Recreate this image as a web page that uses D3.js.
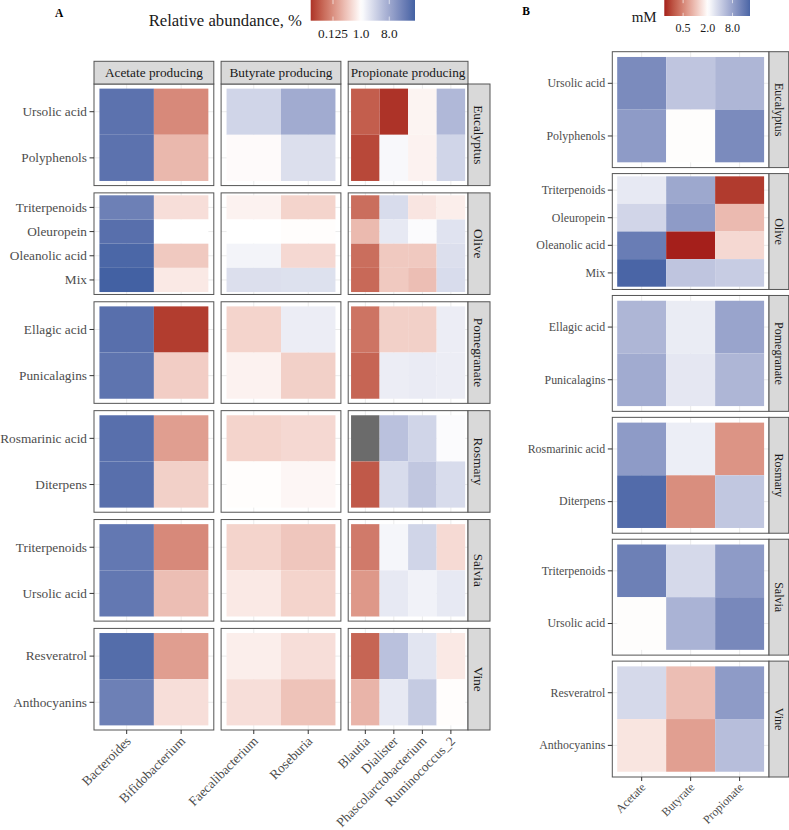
<!DOCTYPE html>
<html><head><meta charset="utf-8">
<script src="https://cdn.jsdelivr.net/npm/d3@7"></script>
<style>body{margin:0;background:#fff}svg{display:block}text{font-family:"Liberation Serif","Times New Roman",serif}</style>
</head><body>
<svg id="c" width="789" height="830"></svg>
<script>
// ---------- DATA ----------
const plants = ["Eucalyptus","Olive","Pomegranate","Rosmary","Salvia","Vine"];
const compounds = [
  ["Ursolic acid","Polyphenols"],
  ["Triterpenoids","Oleuropein","Oleanolic acid","Mix"],
  ["Ellagic acid","Punicalagins"],
  ["Rosmarinic acid","Diterpens"],
  ["Triterpenoids","Ursolic acid"],
  ["Resveratrol","Anthocyanins"]
];
const groupsA = ["Acetate producing","Butyrate producing","Propionate producing"];
const generaA = [
  ["Bacteroides","Bifidobacterium"],
  ["Faecalibacterium","Roseburia"],
  ["Blautia","Dialister","Phascolarctobacterium","Ruminococcus_2"]
];
// relative abundance ratio; columns follow generaA flattened; rows follow compounds flattened
const abundance = [
  [33.4, 0.112, 2.71, 7.6, 0.050, 0.024, 0.82, 5.5],
  [33.4, 0.268, 0.92, 2.13, 0.034, 1.17, 0.79, 2.71],
  [23.3, 0.55, 0.79, 0.45, 0.067, 2.31, 0.62, 0.73],
  [36.0, 1.00, 1.00, 0.96, 0.28, 1.67, 1.10, 1.94],
  [46.0, 0.37, 1.29, 0.49, 0.067, 0.37, 0.37, 2.13],
  [53.8, 0.67, 2.13, 2.05, 0.061, 0.37, 0.30, 2.31],
  [36.0, 0.028, 0.45, 1.51, 0.075, 0.42, 0.42, 1.51],
  [32.0, 0.40, 0.79, 0.42, 0.057, 1.51, 1.58, 1.51],
  [36.0, 0.166, 0.45, 0.49, null, 4.37, 2.71, 1.10],
  [36.0, 0.42, 0.96, 0.85, 0.046, 2.31, 3.82, 2.31],
  [28.4, 0.112, 0.45, 0.35, 0.084, 1.23, 2.71, 0.51],
  [28.4, 0.30, 0.67, 0.45, 0.147, 1.67, 1.36, 1.67],
  [39.0, 0.166, 0.73, 0.55, 0.057, 4.37, 1.84, 0.67],
  [23.3, 0.55, 0.55, 0.33, 0.25, 1.67, 3.44, 0.96]
];
const acidsB = ["Acetate","Butyrate","Propionate"];
const mM = [
  [11.5, 4.67, 5.86],
  [8.9, 1.95, 11.5],
  [2.73, 7.3, 0.22],
  [3.68, 8.9, 0.92],
  [14.4, 0.174, 1.29],
  [21.3, 4.67, 4.17],
  [5.86, 2.64, 7.7],
  [6.96, 2.81, 5.86],
  [8.9, 2.57, 0.59],
  [19.3, 0.55, 4.53],
  [13.7, 3.48, 8.9],
  [1.95, 6.15, 12.0],
  [3.48, 0.96, 8.9],
  [1.49, 0.67, 5.2]
];
const ticksA = [0.125, 1.0, 8.0];
const ticksB = [0.5, 2.0, 8.0];
const midA = 1.0, midB = 2.0;

// ---------- STYLE ----------
const LOW = "#A51F1B", HIGH = "#4361A3", NA_COL = "#6B6B6B";
const svg = d3.select("#c");

function makeColor(values, mid){
  const lv = values.filter(v => v != null).map(v => Math.log2(v));
  const m = Math.log2(mid);
  const M = d3.max(lv, v => Math.abs(v - m));
  const neg = d3.interpolateLab("#ffffff", LOW), pos = d3.interpolateLab("#ffffff", HIGH);
  const s = d3.scaleLinear().domain([m - M, m, m + M]).range([-1, 0, 1]).clamp(true);
  const f = v => {
    if (v == null) return NA_COL;
    const t = s(Math.log2(v));
    return t < 0 ? neg(-t) : pos(t);
  };
  f.extent = d3.extent(lv);
  return f;
}

function colorbar(color, ticks, x0, x1, y0, y1, id, fs, labY){
  const [lo, hi] = color.extent;
  const xs = d3.scaleLinear().domain([lo, hi]).range([x0, x1]);
  const grad = svg.append("defs").append("linearGradient").attr("id", id)
    .attr("x1", "0%").attr("x2", "100%").attr("y1", "0%").attr("y2", "0%");
  d3.range(0, 41).forEach(i => {
    const v = lo + (hi - lo) * i / 40;
    grad.append("stop").attr("offset", (i / 40 * 100) + "%").attr("stop-color", color(Math.pow(2, v)));
  });
  svg.append("rect").attr("x", x0).attr("y", y0).attr("width", x1 - x0).attr("height", y1 - y0)
    .attr("fill", `url(#${id})`);
  const h = y1 - y0;
  ticks.forEach(t => {
    const x = xs(Math.log2(t));
    svg.append("line").attr("x1", x).attr("x2", x).attr("y1", y0).attr("y2", y0 + h / 5)
      .attr("stroke", "#fff").attr("stroke-width", 0.8).attr("opacity", 0.8);
    svg.append("line").attr("x1", x).attr("x2", x).attr("y1", y1 - h / 5).attr("y2", y1)
      .attr("stroke", "#fff").attr("stroke-width", 0.8).attr("opacity", 0.8);
    svg.append("text").attr("x", x).attr("y", labY).attr("text-anchor", "middle")
      .attr("font-size", fs).attr("fill", "#1a1a1a").text(t.toFixed(t < 0.2 ? 3 : 1));
  });
}

function facetGrid(o){
  const nC = o.colCats.length, nR = o.rowCats.length;
  const pw = (o.right - o.left - (nC - 1) * o.colGap) / nC;
  const ph = (o.bottom - o.top - (nR - 1) * o.rowGap) / nR;
  let rowBase = 0;
  o.rowCats.forEach((rows, ri) => {
    const py = o.top + ri * (ph + o.rowGap);
    const y = d3.scaleBand().domain(rows).range([py, py + ph]).paddingInner(0).paddingOuter(0.1);
    let colBase = 0;
    o.colCats.forEach((cols, ci) => {
      const px = o.left + ci * (pw + o.colGap);
      const x = d3.scaleBand().domain(cols).range([px, px + pw]).paddingInner(0).paddingOuter(0.1);
      const g = svg.append("g");
      g.append("rect").attr("x", px).attr("y", py).attr("width", pw).attr("height", ph).attr("fill", "#fff");
      cols.forEach(c => g.append("line").attr("x1", x(c) + x.bandwidth() / 2).attr("x2", x(c) + x.bandwidth() / 2)
        .attr("y1", py).attr("y2", py + ph).attr("stroke", "#EBEBEB").attr("stroke-width", 1));
      rows.forEach(r => g.append("line").attr("y1", y(r) + y.bandwidth() / 2).attr("y2", y(r) + y.bandwidth() / 2)
        .attr("x1", px).attr("x2", px + pw).attr("stroke", "#EBEBEB").attr("stroke-width", 1));
      const cells = [];
      rows.forEach((r, i) => cols.forEach((c, j) => cells.push({r, c, v: o.values[rowBase + i][colBase + j]})));
      g.selectAll("rect.tile").data(cells).join("rect").attr("class", "tile")
        .attr("x", d => x(d.c)).attr("y", d => y(d.r))
        .attr("width", x.bandwidth()).attr("height", y.bandwidth())
        .attr("fill", d => o.color(d.v));
      g.append("rect").attr("x", px).attr("y", py).attr("width", pw).attr("height", ph)
        .attr("fill", "none").attr("stroke", "#555").attr("stroke-width", 1);
      if (o.colLabels && ri === 0) {
        svg.append("rect").attr("x", px).attr("y", o.stripTop).attr("width", pw).attr("height", py - o.stripTop)
          .attr("fill", "#D9D9D9").attr("stroke", "#555").attr("stroke-width", 1);
        svg.append("text").attr("x", px + pw / 2).attr("y", (o.stripTop + py) / 2).attr("dy", "0.35em")
          .attr("text-anchor", "middle").attr("font-size", o.stripFs).attr("fill", "#1a1a1a").text(o.colLabels[ci]);
      }
      if (ci === 0) {
        const ax = svg.append("g").attr("transform", `translate(${px},0)`)
          .call(d3.axisLeft(y).tickSize(4.5).tickSizeOuter(0).tickPadding(2.5));
        ax.select(".domain").remove();
        ax.selectAll(".tick line").attr("stroke", "#333");
        ax.selectAll(".tick text").attr("font-size", o.axisFs).attr("fill", "#4D4D4D")
          .attr("font-family", "Liberation Serif");
      }
      if (ri === nR - 1) {
        const ax = svg.append("g").attr("transform", `translate(0,${py + ph})`)
          .call(d3.axisBottom(x).tickSize(4).tickSizeOuter(0).tickFormat(""));
        ax.select(".domain").remove();
        ax.selectAll(".tick line").attr("stroke", "#333");
        cols.forEach(c => {
          const tx = x(c) + x.bandwidth() / 2 + o.xlabDx, ty = py + ph + o.xlabDy;
          svg.append("text").attr("transform", `translate(${tx},${ty}) rotate(-45)`)
            .attr("text-anchor", "end").attr("font-size", o.axisFs).attr("fill", "#4D4D4D").text(c);
        });
      }
      colBase += cols.length;
    });
    const sx = o.right;
    svg.append("rect").attr("x", sx).attr("y", py).attr("width", o.stripW).attr("height", ph)
      .attr("fill", "#D9D9D9").attr("stroke", "#555").attr("stroke-width", 1);
    svg.append("text").attr("transform", `translate(${sx + o.stripW / 2},${py + ph / 2}) rotate(90)`)
      .attr("dy", "0.35em").attr("text-anchor", "middle").attr("font-size", o.stripFs).attr("fill", "#1a1a1a")
      .text(plants[ri]);
    rowBase += rows.length;
  });
}

// ---------- PANEL A ----------
const colorA = makeColor(abundance.flat(), midA);
facetGrid({
  colCats: generaA, rowCats: compounds, values: abundance, color: colorA,
  left: 94, right: 468, top: 84, bottom: 730, colGap: 7.3, rowGap: 7.3,
  colLabels: groupsA, stripTop: 61.3, stripW: 22, stripFs: 13.3, axisFs: 13.3,
  xlabDx: 5, xlabDy: 12
});
colorbar(colorA, ticksA, 310.7, 415, 0, 20.7, "gA", 13.3, 37.5);
svg.append("text").attr("x", 302).attr("y", 26).attr("text-anchor", "end").attr("font-size", 16.7)
  .attr("fill", "#1a1a1a").text("Relative abundance, %");
svg.append("text").attr("x", 55).attr("y", 16.7).attr("font-size", 11.5).attr("font-weight", "bold").text("A");

// ---------- PANEL B ----------
const colorB = makeColor(mM.flat(), midB);
facetGrid({
  colCats: [acidsB], rowCats: compounds, values: mM, color: colorB,
  left: 612.3, right: 769, top: 51.7, bottom: 777, colGap: 0, rowGap: 6,
  colLabels: null, stripW: 19.7, stripFs: 12, axisFs: 11.9,
  xlabDx: 4.5, xlabDy: 11
});
colorbar(colorB, ticksB, 664.3, 750, 0, 16, "gB", 12, 32.3);
svg.append("text").attr("x", 656.7).attr("y", 21.7).attr("text-anchor", "end").attr("font-size", 15)
  .attr("fill", "#1a1a1a").text("mM");
svg.append("text").attr("x", 522.3).attr("y", 15).attr("font-size", 11.5).attr("font-weight", "bold").text("B");
</script>
</body></html>
